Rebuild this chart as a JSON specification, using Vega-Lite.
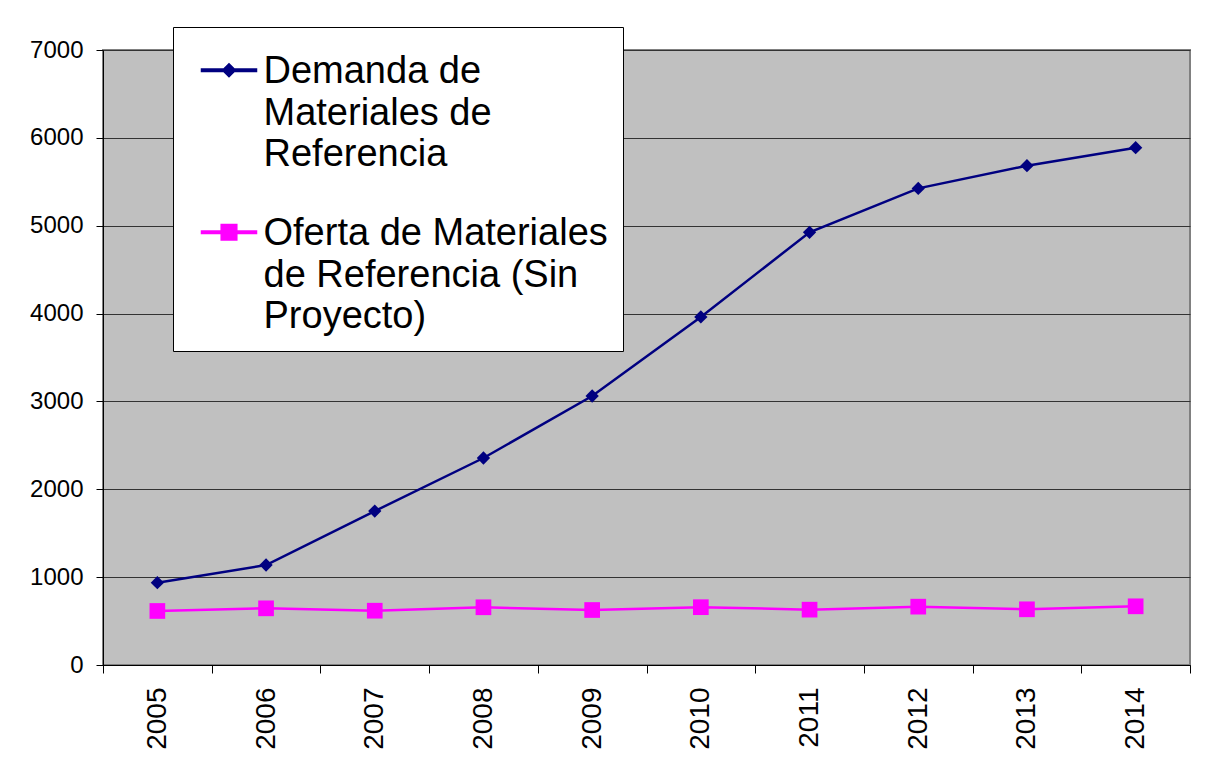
{
  "$schema": "https://vega.github.io/schema/vega-lite/v6.json",
  "width": 1087,
  "height": 615,
  "autosize": {"type": "none"},
  "padding": {"left": 103, "top": 50, "right": 24, "bottom": 108},
  "background": "#ffffff",
  "config": {
    "font": "Liberation Sans",
    "view": {"fill": "#c0c0c0", "stroke": "#808080", "strokeWidth": 2},
    "axis": {"labelFont": "Liberation Sans", "labelColor": "#000000", "domainColor": "#000000", "tickColor": "#000000", "title": null},
    "style": {"guide-label": {"lineHeight": 41.5}}
  },
  "data": {
    "values": [
      {"year": 2005, "series": "Demanda de Materiales de Referencia", "value": 937},
      {"year": 2006, "series": "Demanda de Materiales de Referencia", "value": 1138},
      {"year": 2007, "series": "Demanda de Materiales de Referencia", "value": 1752},
      {"year": 2008, "series": "Demanda de Materiales de Referencia", "value": 2356},
      {"year": 2009, "series": "Demanda de Materiales de Referencia", "value": 3062},
      {"year": 2010, "series": "Demanda de Materiales de Referencia", "value": 3962},
      {"year": 2011, "series": "Demanda de Materiales de Referencia", "value": 4925},
      {"year": 2012, "series": "Demanda de Materiales de Referencia", "value": 5425},
      {"year": 2013, "series": "Demanda de Materiales de Referencia", "value": 5683},
      {"year": 2014, "series": "Demanda de Materiales de Referencia", "value": 5888},
      {"year": 2005, "series": "Oferta de Materiales de Referencia (Sin Proyecto)", "value": 615},
      {"year": 2006, "series": "Oferta de Materiales de Referencia (Sin Proyecto)", "value": 645},
      {"year": 2007, "series": "Oferta de Materiales de Referencia (Sin Proyecto)", "value": 618},
      {"year": 2008, "series": "Oferta de Materiales de Referencia (Sin Proyecto)", "value": 657},
      {"year": 2009, "series": "Oferta de Materiales de Referencia (Sin Proyecto)", "value": 626},
      {"year": 2010, "series": "Oferta de Materiales de Referencia (Sin Proyecto)", "value": 658},
      {"year": 2011, "series": "Oferta de Materiales de Referencia (Sin Proyecto)", "value": 630},
      {"year": 2012, "series": "Oferta de Materiales de Referencia (Sin Proyecto)", "value": 664},
      {"year": 2013, "series": "Oferta de Materiales de Referencia (Sin Proyecto)", "value": 634},
      {"year": 2014, "series": "Oferta de Materiales de Referencia (Sin Proyecto)", "value": 668}
    ]
  },
  "encoding": {
    "x": {
      "field": "year", "type": "ordinal",
      "scale": {"type": "band", "paddingInner": 0, "paddingOuter": 0},
      "axis": {"labelAngle": 270, "labelFontSize": 28, "labelPadding": 14, "tickSize": 8, "tickBand": "extent", "grid": false, "domainWidth": 1, "tickWidth": 1}
    },
    "y": {
      "field": "value", "type": "quantitative",
      "scale": {"domain": [0, 7000], "nice": false},
      "axis": {"values": [0, 1000, 2000, 3000, 4000, 5000, 6000, 7000], "format": "d", "labelFontSize": 24, "labelPadding": 13, "tickSize": 7, "grid": true, "gridColor": "#333333", "gridWidth": 1, "gridOpacity": 1, "domainWidth": 1}
    },
    "color": {
      "field": "series", "type": "nominal",
      "scale": {"domain": ["Demanda de Materiales de Referencia", "Oferta de Materiales de Referencia (Sin Proyecto)"], "range": ["#000080", "#ff00ff"]},
      "legend": {
        "orient": "none", "legendX": 70, "legendY": -23, "title": null,
        "fillColor": "#ffffff", "strokeColor": "#000000", "padding": 15,
        "labelFontSize": 38, "labelFont": "Liberation Sans", "labelColor": "#000000", "labelLimit": 600,
        "labelBaseline": "alphabetic", "labelOffset": -6.5,
        "symbolSize": 6400, "rowPadding": 30, "symbolOpacity": 1,
        "labelExpr": "datum.label == 'Demanda de Materiales de Referencia' ? ['Demanda de', 'Materiales de', 'Referencia'] : ['Oferta de Materiales', 'de Referencia (Sin', 'Proyecto)']"
      }
    }
  },
  "layer": [
    {"mark": {"type": "line", "strokeWidth": 2.5}},
    {
      "transform": [{"filter": "datum.series == 'Demanda de Materiales de Referencia'"}],
      "mark": {"type": "point", "shape": "diamond", "filled": true, "opacity": 1, "size": 177}
    },
    {
      "transform": [{"filter": "datum.series != 'Demanda de Materiales de Referencia'"}],
      "mark": {"type": "point", "shape": "square", "filled": true, "opacity": 1, "size": 246}
    },
    {
      "transform": [{"filter": "false"}],
      "mark": {"type": "point", "filled": true, "opacity": 1},
      "encoding": {
        "shape": {
          "field": "series", "type": "nominal",
          "scale": {"domain": ["Demanda de Materiales de Referencia", "Oferta de Materiales de Referencia (Sin Proyecto)"], "range": ["M-0.6875,-0.349H0.6875V-0.286H-0.6875Z M0,-0.48L0.1625,-0.3175L0,-0.155L-0.1625,-0.3175Z", "M-0.6875,-0.349H0.6875V-0.286H-0.6875Z M-0.195,-0.5125H0.195V-0.1225H-0.195Z"]}
        }
      }
    }
  ]
}
